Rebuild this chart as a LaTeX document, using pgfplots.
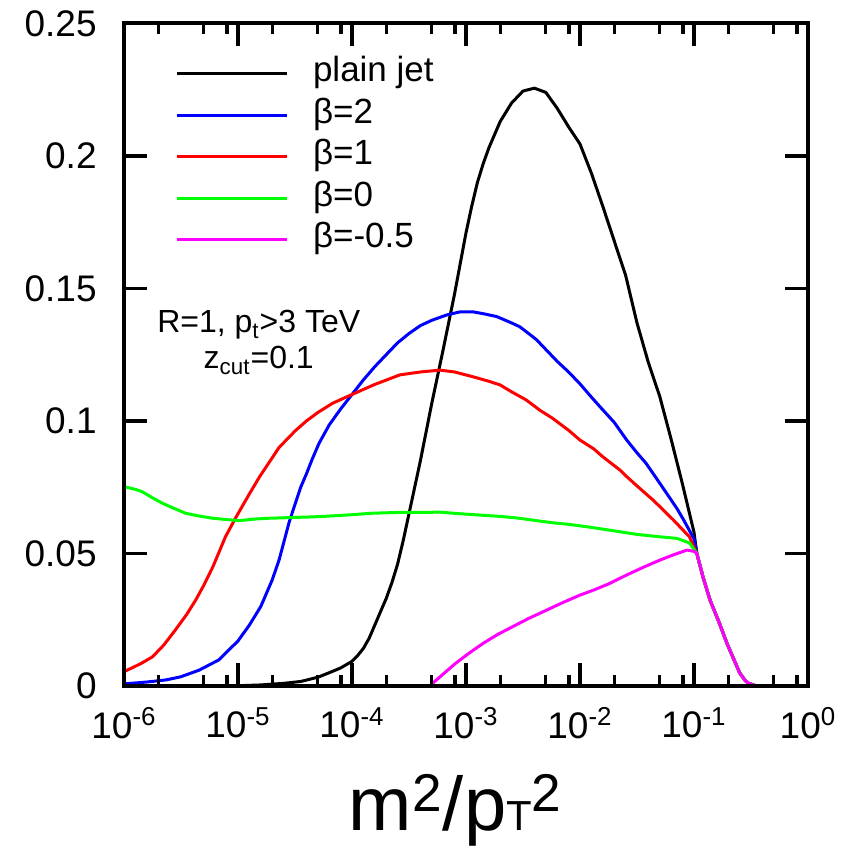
\documentclass[border=0pt]{standalone}
\usepackage{pgfplots}
\pgfplotsset{compat=1.18}
\usepackage{fontspec}
\setmainfont{Liberation Sans}
\definecolor{cblack}{rgb}{0,0,0}
\definecolor{cblue}{rgb}{0,0,1}
\definecolor{cred}{rgb}{1,0,0}
\definecolor{cgreen}{rgb}{0,1,0}
\definecolor{cmagenta}{rgb}{1,0,1}
\begin{document}
\begin{tikzpicture}
\path[use as bounding box] (-62pt,-84pt) rectangle (359.5pt,343pt);
\begin{axis}[
  at={(0pt,0pt)}, anchor=south west,
  scale only axis, width=342pt, height=331.25pt,
  xmode=log, xmin=1e-6, xmax=1, ymin=0, ymax=0.25,
  axis on top,
  xtick={1e-6,1e-5,1e-4,1e-3,1e-2,1e-1,1},
  xticklabels={10\textsuperscript{-6},10\textsuperscript{-5},10\textsuperscript{-4},10\textsuperscript{-3},10\textsuperscript{-2},10\textsuperscript{-1},10\textsuperscript{0}},
  minor xtick={2e-6,5e-6,8e-6,2e-5,5e-5,8e-5,2e-4,5e-4,8e-4,2e-3,5e-3,8e-3,2e-2,5e-2,8e-2,0.2,0.5,0.8},
  ytick={0,0.05,0.1,0.15,0.2,0.25},
  yticklabels={0,0.05,0.1,0.15,0.2,0.25},
  tick align=inside, xtick pos=both, ytick pos=both,
  xticklabel pos=lower, yticklabel pos=left,
  major tick length=11.5pt, minor tick length=5.5pt,
  tick style={black, line width=1.6pt},
  axis line style={line width=2pt},
  ticklabel style={font=\fontsize{18.5}{20}\selectfont},
  yticklabel style={inner sep=0pt, xshift=-13.5pt},
  xticklabel style={inner sep=0pt, yshift=-10.5pt},
  xlabel={m\textsuperscript{2}/p{\fontsize{21}{22}\selectfont T}\textsuperscript{2}},
  xlabel style={at={(axis description cs:0.485,-0.2174)}, anchor=base, inner sep=0pt, font=\fontsize{38}{40}\selectfont},
  legend style={draw=none, fill=none, at={(0.0746,0.9555)}, anchor=north west, inner sep=0pt, outer sep=0pt, row sep=0pt, column sep=12.5pt, font=\fontsize{17.5}{20}\selectfont, nodes={inner sep=0pt, text height=14.5pt, text depth=6.25pt}},
  legend cell align=left,
  legend image code/.code={\draw[#1] (0pt,0pt) -- (55pt,0pt);},
  every axis plot/.append style={line width=1.5pt, line join=round},
]
% plain jet
\addplot[cblack] coordinates {
(1e-6,0) (1e-5,0.0001) (1.585e-5,0.0004) (2.512e-5,0.0010) (3.548e-5,0.0017) (5.012e-5,0.0033)
(6.310e-5,0.0050) (7.943e-5,0.0068) (1e-4,0.0093) (1.122e-4,0.0115) (1.259e-4,0.0142) (1.413e-4,0.0180)
(1.585e-4,0.0230) (1.778e-4,0.028) (1.995e-4,0.033) (2.239e-4,0.039)
(2.512e-4,0.046) (2.818e-4,0.055) (3.162e-4,0.065) (3.548e-4,0.075) (3.981e-4,0.085) (5.012e-4,0.1067) (6.310e-4,0.127) (7.943e-4,0.148)
(1e-3,0.171) (1.122e-3,0.181) (1.259e-3,0.190) (1.413e-3,0.197) (1.585e-3,0.203) (1.995e-3,0.213) (2.512e-3,0.220) (3.162e-3,0.2245)
(3.981e-3,0.2256) (5.012e-3,0.2240) (6.310e-3,0.218) (7.943e-3,0.211) (1e-2,0.2045) (1.259e-2,0.1935)
(1.585e-2,0.181) (1.995e-2,0.168) (2.512e-2,0.155) (3.162e-2,0.137) (3.981e-2,0.122) (5.012e-2,0.1092)
(6.310e-2,0.093) (7.943e-2,0.076) (0.1,0.058) (0.1059,0.050)
(0.1202,0.041) (0.1380,0.0325) (0.1660,0.024) (0.1950,0.016) (0.2239,0.010) (0.2512,0.005)
(0.2818,0.002) (0.3020,0.001) (0.3548,0) (1,0)
};
\addlegendentry{plain jet}
% beta = 2
\addplot[cblue] coordinates {
(1e-6,0.0008) (1.585e-6,0.0015) (2.344e-6,0.0023) (3.162e-6,0.0035) (4.571e-6,0.006) (6.761e-6,0.0098)
(1e-5,0.017) (1.259e-5,0.023) (1.585e-5,0.030) (1.995e-5,0.040) (2.291e-5,0.0475) (2.818e-5,0.062)
(3.548e-5,0.075) (3.981e-5,0.080) (4.467e-5,0.0855) (5.129e-5,0.0915) (6.310e-5,0.0985) (7.943e-5,0.1045) (1e-4,0.1100) (1.259e-4,0.1155)
(1.585e-4,0.1205) (1.995e-4,0.125) (2.512e-4,0.1295) (3.162e-4,0.1330) (3.981e-4,0.136) (5.012e-4,0.138)
(6.761e-4,0.140) (8.913e-4,0.1412) (1.148e-3,0.1412) (1.413e-3,0.1405) (1.862e-3,0.1394) (2.512e-3,0.137)
(2.951e-3,0.1356) (3.548e-3,0.133) (4.169e-3,0.1306) (5.012e-3,0.127) (6.310e-3,0.1225) (7.943e-3,0.1185)
(1e-2,0.114) (1.259e-2,0.109) (1.585e-2,0.1042) (1.995e-2,0.0995) (2.570e-2,0.0928) (3.162e-2,0.088)
(3.802e-2,0.084) (5.012e-2,0.0765) (5.754e-2,0.0727) (7.079e-2,0.067) (8.128e-2,0.0626) (0.1,0.0555)
(0.1059,0.050)
(0.1202,0.041) (0.1380,0.0325) (0.1660,0.024) (0.1950,0.016) (0.2239,0.010) (0.2512,0.005)
(0.2818,0.002) (0.3020,0.001) (0.3548,0) (1,0)
};
\addlegendentry{β=2}
% beta = 1
\addplot[cred] coordinates {
(1e-6,0.0054) (1.413e-6,0.0085) (1.778e-6,0.011) (2.239e-6,0.0155) (2.818e-6,0.0211) (3.548e-6,0.027)
(4.266e-6,0.0325) (5.012e-6,0.038) (6.026e-6,0.045) (7.762e-6,0.0563) (9.550e-6,0.0635) (1.259e-5,0.0725)
(1.549e-5,0.0790) (1.905e-5,0.0848) (2.291e-5,0.0900) (3.162e-5,0.0962) (3.981e-5,0.1000) (5.012e-5,0.1032)
(6.761e-5,0.1067) (1e-4,0.110) (1.585e-4,0.1138) (2.630e-4,0.1174) (3.981e-4,0.1185) (5.888e-4,0.1192)
(7.943e-4,0.1185) (1.148e-3,0.1167) (1.585e-3,0.115) (1.995e-3,0.1136) (2.512e-3,0.111) (3.388e-3,0.1079)
(4.467e-3,0.104) (5.754e-3,0.101) (7.943e-3,0.0965) (1e-2,0.0928) (1.318e-2,0.0895) (1.585e-2,0.0865)
(2.239e-2,0.0815) (2.570e-2,0.079) (3.162e-2,0.0755) (4.365e-2,0.0702) (5.623e-2,0.0656) (6.607e-2,0.0626)
(7.943e-2,0.059) (9.120e-2,0.0563) (0.1059,0.050)
(0.1202,0.041) (0.1380,0.0325) (0.1660,0.024) (0.1950,0.016) (0.2239,0.010) (0.2512,0.005)
(0.2818,0.002) (0.3020,0.001) (0.3548,0) (1,0)
};
\addlegendentry{β=1}
% beta = 0
\addplot[cgreen] coordinates {
(1e-6,0.0752) (1.259e-6,0.0742) (1.445e-6,0.0733) (1.778e-6,0.0710) (2.188e-6,0.0689) (2.754e-6,0.0670)
(3.467e-6,0.0652) (4.467e-6,0.0642) (6.026e-6,0.0633) (7.943e-6,0.0628) (1.023e-5,0.0624) (1.413e-5,0.0630)
(1.862e-5,0.0633) (3.162e-5,0.0636) (5.129e-5,0.0639) (8.913e-5,0.0645) (1.514e-4,0.0652) (2.630e-4,0.0655)
(3.981e-4,0.0655) (5.888e-4,0.0656) (8.913e-4,0.0650) (1.318e-3,0.0645) (1.995e-3,0.0640) (2.951e-3,0.0633)
(3.981e-3,0.0625) (5.754e-3,0.0616) (7.943e-3,0.0610) (1.148e-2,0.0601) (1.585e-2,0.0592) (2.239e-2,0.0582)
(3.162e-2,0.0572) (5.012e-2,0.0563) (7.079e-2,0.0557) (9.120e-2,0.0540) (0.1059,0.050)
(0.1202,0.041) (0.1380,0.0325) (0.1660,0.024) (0.1950,0.016) (0.2239,0.010) (0.2512,0.005)
(0.2818,0.002) (0.3020,0.001) (0.3548,0) (1,0)
};
\addlegendentry{β=0}
% beta = -0.5
\addplot[cmagenta] coordinates {
(1e-6,0) (4.786e-4,0) (6.310e-4,0.0045) (8.128e-4,0.0086) (1.072e-3,0.0125) (1.413e-3,0.0161)
(1.905e-3,0.0195) (2.570e-3,0.0224) (3.548e-3,0.0255) (5.129e-3,0.0287) (7.079e-3,0.0315) (1e-2,0.0343)
(1.318e-2,0.0362) (1.778e-2,0.0385) (2.570e-2,0.0419) (3.548e-2,0.0447) (5.012e-2,0.0475) (6.607e-2,0.0495)
(8.710e-2,0.0513) (0.1,0.0508) (0.1059,0.050)
(0.1202,0.041) (0.1380,0.0325) (0.1660,0.024) (0.1950,0.016) (0.2239,0.010) (0.2512,0.005)
(0.2818,0.002) (0.3020,0.001) (0.3548,0) (1,0)
};
\addlegendentry{β=-0.5}
\node[anchor=base, inner sep=0pt, font=\fontsize{16}{18}\selectfont] at (rel axis cs:0.197,0.533) {R=1, p\textsubscript{t}>3 TeV};
\node[anchor=base, inner sep=0pt, font=\fontsize{16}{18}\selectfont] at (rel axis cs:0.197,0.4785) {z\textsubscript{cut}=0.1};
\end{axis}
\end{tikzpicture}
\end{document}
